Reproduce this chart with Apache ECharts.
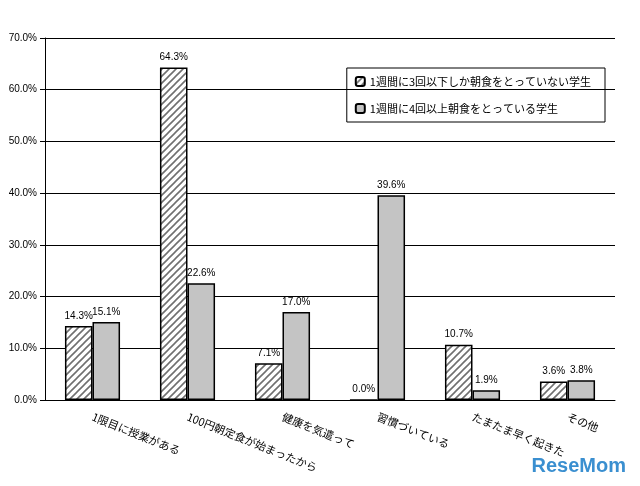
<!DOCTYPE html>
<html>
<head>
<meta charset="utf-8">
<script src="https://cdn.jsdelivr.net/npm/echarts@6/dist/echarts.min.js"></script>
</head>
<body style="margin:0;background:#fff">
<div id="main" style="width:640px;height:486px;"></div>
<script>
var categories = ['1限目に授業がある', '100円朝定食が始まったから', '健康を気遣って', '習慣づいている', 'たまたま早く起きた', 'その他'];
var seriesNames = ['1週間に3回以下しか朝食をとっていない学生', '1週間に4回以上朝食をとっている学生'];
var lowFreq = [14.3, 64.3, 7.1, 0.0, 10.7, 3.6];
var highFreq = [15.1, 22.6, 17.0, 39.6, 1.9, 3.8];

// diagonal hatch
var c = document.createElement('canvas');
c.width = 7; c.height = 7;
var ctx = c.getContext('2d');
ctx.fillStyle = '#fff'; ctx.fillRect(0, 0, 7, 7);
ctx.strokeStyle = '#707070'; ctx.lineWidth = 1.6;
ctx.beginPath();
ctx.moveTo(0, 7); ctx.lineTo(7, 0);
ctx.moveTo(-3.5, 3.5); ctx.lineTo(3.5, -3.5);
ctx.moveTo(3.5, 10.5); ctx.lineTo(10.5, 3.5);
ctx.stroke();

var font = '"Noto Sans CJK JP", sans-serif';
var chart = echarts.init(document.getElementById('main'));
chart.setOption({
  animation: false,
  grid: { left: 45, right: 25, top: 38, bottom: 86 },
  legend: {
    orient: 'vertical', right: 35, top: 68, itemGap: 16,
    itemWidth: 9, itemHeight: 9,
    borderColor: '#000', borderWidth: 1, padding: [8, 14, 8, 8],
    textStyle: { fontFamily: font, fontSize: 11, color: '#000' },
    data: seriesNames
  },
  xAxis: {
    type: 'category', data: categories,
    axisLine: { lineStyle: { color: '#000' } },
    axisTick: { lineStyle: { color: '#000' } },
    axisLabel: { rotate: -22, interval: 0, fontFamily: font, fontSize: 11, color: '#000', margin: 16, align: 'left' }
  },
  yAxis: {
    type: 'value', min: 0, max: 70, interval: 10,
    axisLine: { show: true, lineStyle: { color: '#000' } },
    axisTick: { show: true, lineStyle: { color: '#000' } },
    splitLine: { lineStyle: { color: '#000' } },
    axisLabel: { fontSize: 10, color: '#000', fontFamily: 'Arial', formatter: function (v) { return v.toFixed(1) + '%'; } }
  },
  series: [
    {
      name: seriesNames[0], type: 'bar', data: lowFreq, barGap: 0, barCategoryGap: '42%',
      itemStyle: { color: { image: c, repeat: 'repeat' }, borderColor: '#000', borderWidth: 1.5 },
      label: { show: true, position: 'top', fontSize: 10, color: '#000', formatter: function (p) { return p.value.toFixed(1) + '%'; } }
    },
    {
      name: seriesNames[1], type: 'bar', data: highFreq,
      itemStyle: { color: '#c4c4c4', borderColor: '#000', borderWidth: 1.5 },
      label: { show: true, position: 'top', fontSize: 10, color: '#000', formatter: function (p) { return p.value.toFixed(1) + '%'; } }
    }
  ],
  graphic: [{ type: 'text', right: 14, bottom: 10, style: { text: 'ReseMom', fontSize: 20, fontWeight: 'bold', fill: '#3a8fd0', fontFamily: 'Arial' } }]
});
</script>
</body>
</html>
